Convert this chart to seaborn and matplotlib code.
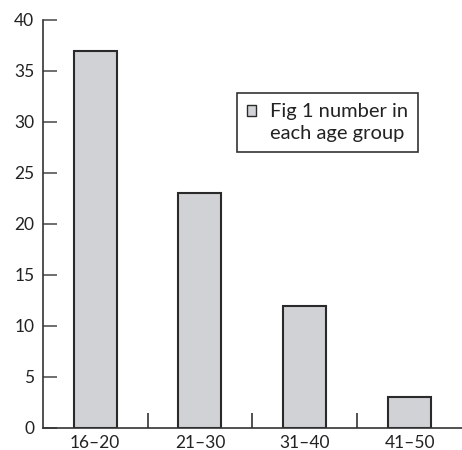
import seaborn as sns
import matplotlib.pyplot as plt
from matplotlib.ticker import FixedLocator

age_groups = ["16–20", "21–30", "31–40", "41–50"]
counts = [37, 23, 12, 3]
legend_label = "Fig 1 number in\neach age group"
y_ticks = [0, 5, 10, 15, 20, 25, 30, 35, 40]

sns.set_style("ticks")
plt.rcParams['font.family'] = ['Lato', 'DejaVu Sans']

fig = plt.figure(figsize=(4.62, 4.5), dpi=100)
ax = fig.add_axes([0.0924, 0.049, 0.9076, 0.9066])

sns.barplot(x=age_groups, y=counts, color="#d0d2d5", edgecolor="#2a2a2a",
            linewidth=1.5, width=0.41, saturation=1, label=legend_label, ax=ax)

ax.set_ylim(0, 40)
ax.set_xlim(-0.5, 3.5)
ax.set_yticks(y_ticks)
ax.xaxis.set_minor_locator(FixedLocator([0.5, 1.5, 2.5]))

sns.despine(ax=ax)
for side in ["left", "bottom"]:
    ax.spines[side].set_color("#333333")
    ax.spines[side].set_linewidth(1.2)

ax.tick_params(axis="y", direction="in", length=10, width=1.2, color="#555555",
               pad=6, labelsize=12.5, labelcolor="#222222")
ax.tick_params(axis="x", which="major", length=0, pad=5, labelsize=12.5,
               labelcolor="#222222")
ax.tick_params(axis="x", which="minor", direction="in", length=11, width=1.2,
               color="#333333")

leg = ax.legend(loc="upper left", bbox_to_anchor=(0.463, 0.822), borderaxespad=0,
                fancybox=False, framealpha=1, edgecolor="#333333", fontsize=14.5,
                handlelength=0.45, handleheight=0.45, handletextpad=0.7,
                borderpad=0.5, labelspacing=0.2)
leg.get_frame().set_linewidth(1.2)
for t in leg.get_texts():
    t.set_color("#222222")
    t.set_linespacing(1.35)
# the reference puts the square next to the first line of the label
handle = leg.legend_handles[0]
handle.set_y(handle.get_y() + 8.5)
handle.set_linewidth(1.0)

fig.savefig("out.png", dpi=100)
